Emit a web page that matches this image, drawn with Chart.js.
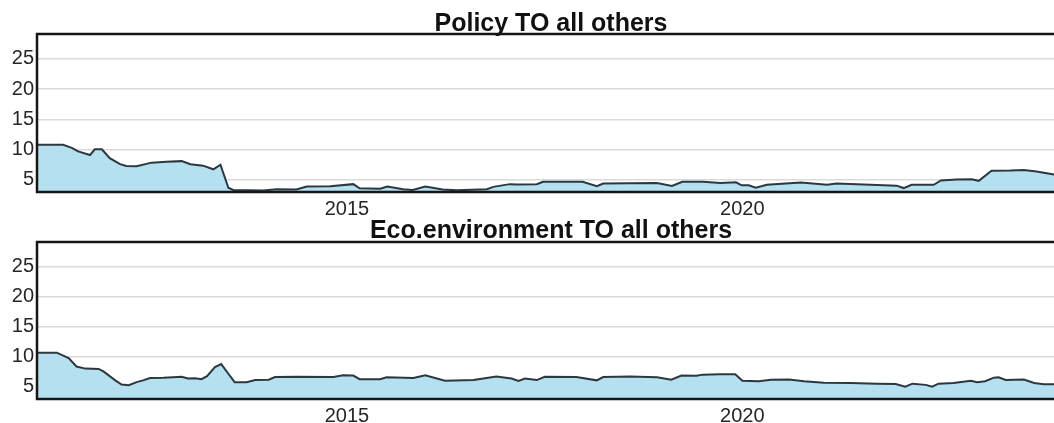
<!DOCTYPE html>
<html>
<head>
<meta charset="utf-8">
<script src="https://cdn.jsdelivr.net/npm/chart.js@4/dist/chart.umd.min.js"></script>
<style>
  html, body { margin: 0; padding: 0; background: #fff; overflow: hidden; }
  body { width: 1054px; height: 423px; position: relative; }
  canvas { position: absolute; left: 0; }
  #policyChart { top: 0; }
  #ecoChart { top: 212px; }
</style>
</head>
<body>
<canvas id="policyChart" width="1068" height="222"></canvas>
<canvas id="ecoChart" width="1068" height="217"></canvas>
<script>
// values, x in decimal years
const policyYears = [2011.08, 2011.41, 2011.52, 2011.60, 2011.75, 2011.81, 2011.90, 2012.00, 2012.13, 2012.21,
  2012.34, 2012.53, 2012.72, 2012.91, 2013.02, 2013.18, 2013.31, 2013.40, 2013.50, 2013.56,
  2013.94, 2014.11, 2014.36, 2014.49, 2014.79, 2015.08, 2015.16, 2015.42, 2015.51, 2015.71,
  2015.83, 2015.99, 2016.21, 2016.39, 2016.77, 2016.85, 2017.06, 2017.15, 2017.40, 2017.48,
  2017.98, 2018.16, 2018.24, 2018.92, 2019.11, 2019.24, 2019.50, 2019.72, 2019.92, 2019.99,
  2020.08, 2020.17, 2020.31, 2020.74, 2021.07, 2021.19, 2021.62, 2021.95, 2022.04, 2022.14,
  2022.42, 2022.51, 2022.71, 2022.90, 2022.99, 2023.15, 2023.39, 2023.56, 2023.72, 2023.94, 2024.08];
const policyValues = [10.8, 10.8, 10.3, 9.7, 9.1, 10.05, 10.05, 8.6, 7.6, 7.3,
  7.25, 7.85, 8.0, 8.1, 7.6, 7.35, 6.75, 7.5, 3.7, 3.35,
  3.25, 3.45, 3.4, 3.9, 3.95, 4.3, 3.6, 3.55, 3.9, 3.45,
  3.35, 3.9, 3.4, 3.3, 3.45, 3.85, 4.3, 4.25, 4.3, 4.7,
  4.7, 3.95, 4.4, 4.5, 4.0, 4.7, 4.7, 4.5, 4.6, 4.1,
  4.1, 3.7, 4.2, 4.55, 4.2, 4.4, 4.2, 4.05, 3.65, 4.2,
  4.2, 4.9, 5.05, 5.1, 4.85, 6.5, 6.55, 6.65, 6.4, 5.9, 5.7];

const ecoYears = [2011.08, 2011.33, 2011.48, 2011.58, 2011.69, 2011.86, 2011.92, 2012.07, 2012.15, 2012.24,
  2012.34, 2012.42, 2012.51, 2012.68, 2012.91, 2012.99, 2013.08, 2013.16, 2013.23, 2013.33,
  2013.41, 2013.50, 2013.58, 2013.73, 2013.84, 2014.01, 2014.09, 2014.36, 2014.83, 2014.95,
  2015.08, 2015.16, 2015.42, 2015.50, 2015.84, 2015.99, 2016.24, 2016.60, 2016.89, 2017.08,
  2017.17, 2017.25, 2017.40, 2017.50, 2017.90, 2018.16, 2018.24, 2018.58, 2018.92, 2019.10,
  2019.23, 2019.42, 2019.50, 2019.72, 2019.91, 2020.00, 2020.21, 2020.36, 2020.59, 2020.78,
  2021.03, 2021.37, 2021.70, 2021.94, 2022.06, 2022.15, 2022.32, 2022.40, 2022.48, 2022.67,
  2022.89, 2022.97, 2023.07, 2023.18, 2023.24, 2023.33, 2023.56, 2023.69, 2023.81, 2023.94, 2024.08];
const ecoValues = [10.7, 10.7, 9.8, 8.4, 8.05, 8.0, 7.6, 6.1, 5.4, 5.3,
  5.8, 6.1, 6.5, 6.55, 6.7, 6.4, 6.45, 6.3, 6.8, 8.3,
  8.8, 7.2, 5.8, 5.8, 6.15, 6.2, 6.65, 6.7, 6.65, 6.95,
  6.9, 6.3, 6.3, 6.6, 6.5, 6.95, 6.05, 6.15, 6.75, 6.4,
  6.0, 6.4, 6.15, 6.7, 6.65, 6.1, 6.65, 6.75, 6.6, 6.2,
  6.9, 6.85, 7.05, 7.1, 7.1, 6.05, 5.95, 6.2, 6.25, 5.95,
  5.7, 5.65, 5.55, 5.5, 5.05, 5.55, 5.35, 5.05, 5.55, 5.65,
  6.05, 5.8, 5.95, 6.55, 6.6, 6.15, 6.25, 5.65, 5.45, 5.45, 5.45];

const yearTicks = [2015, 2020];
const valueTicks = [5, 10, 15, 20, 25];
const yearMin = 2011.08, yearMax = 2024.08;
const valueMin = 3.0, valueMax = 29.1;

const fontFamily = '"Liberation Sans", Arial, Helvetica, sans-serif';

// black box round the panel, drawn on top of the area
const framePlugin = {
  id: 'frame',
  afterDatasetsDraw(chart) {
    const { ctx, chartArea } = chart;
    ctx.save();
    ctx.strokeStyle = '#161616';
    ctx.lineWidth = 2.5;
    ctx.strokeRect(chartArea.left, chartArea.top, chartArea.right - chartArea.left, chartArea.bottom - chartArea.top);
    ctx.restore();
  }
};

const makeChart = (canvasId, titleText, years, values, titlePad) => {
  return new Chart(document.getElementById(canvasId), {
    type: 'line',
    data: {
      datasets: [{
        data: years.map((x, i) => ({ x: x, y: values[i] })),
        borderColor: '#2b3840',
        borderWidth: 2,
        backgroundColor: '#b4e0f0',
        fill: 'start',
        pointRadius: 0,
        tension: 0
      }]
    },
    options: {
      responsive: false,
      animation: false,
      layout: { padding: { left: 0, right: 3, top: 0, bottom: 0 } },
      plugins: {
        legend: { display: false },
        tooltip: { enabled: false },
        title: {
          display: true,
          text: titleText,
          fullSize: false,
          color: '#111',
          font: { family: fontFamily, size: 25, weight: 'bold', lineHeight: 0.8 },
          padding: titlePad
        }
      },
      scales: {
        x: {
          type: 'linear',
          min: yearMin,
          max: yearMax,
          afterBuildTicks: (scale) => { scale.ticks = yearTicks.map(v => ({ value: v })); },
          afterFit: (scale) => { scale.height = 30; },
          grid: { display: false, drawTicks: false },
          border: { display: false },
          ticks: {
            color: '#262626',
            font: { family: fontFamily, size: 20 },
            padding: 5,
            maxRotation: 0,
            autoSkip: false,
            callback: (v) => String(v)
          }
        },
        y: {
          min: valueMin,
          max: valueMax,
          afterBuildTicks: (scale) => { scale.ticks = valueTicks.map(v => ({ value: v })); },
          afterFit: (scale) => { scale.width = 37; },
          grid: { color: '#dadada', lineWidth: 1.5, drawTicks: false },
          border: { display: false },
          ticks: {
            color: '#262626',
            font: { family: fontFamily, size: 20 },
            padding: 3,
            callback: (v) => String(v)
          }
        }
      }
    },
    plugins: [framePlugin]
  });
};

makeChart('policyChart', 'Policy TO all others', policyYears, policyValues, { top: 14, bottom: 0 });
makeChart('ecoChart', 'Eco.environment TO all others', ecoYears, ecoValues, { top: 9, bottom: 1 });
</script>
</body>
</html>
